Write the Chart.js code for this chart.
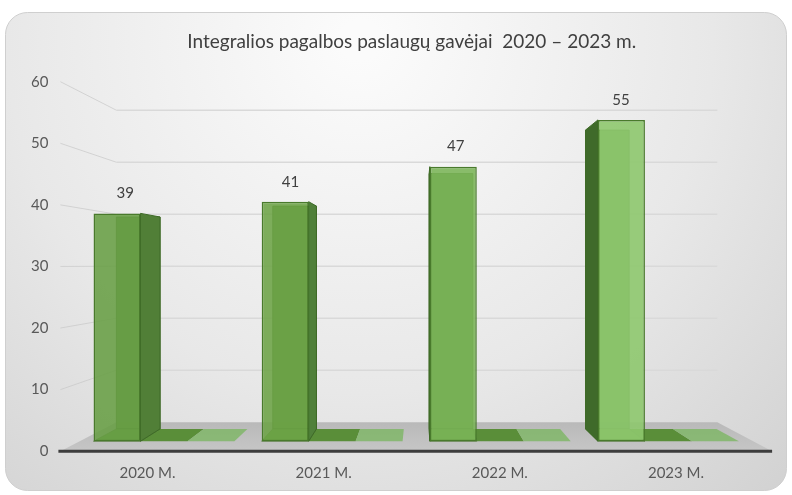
<!DOCTYPE html>
<html><head><meta charset="utf-8">
<script src="https://cdn.jsdelivr.net/npm/chart.js@4/dist/chart.umd.min.js"></script>
<style>html,body{margin:0;padding:0;background:#fff}#wrap{width:792px;height:495px}</style>
</head><body><div id="wrap"><canvas id="c" width="792" height="495"></canvas></div>
<script>
const categories = ['2020 M.', '2021 M.', '2022 M.', '2023 M.'];
const recipients = [39, 41, 47, 55];
const seriesB = [0, 0, 0, 0];
const seriesC = [0, 0, 0, 0];
const yTickValues = [0, 10, 20, 30, 40, 50, 60];
const titleText = 'Integralios pagalbos paslaugų gavėjai  2020 – 2023 m.';

const frontColors = ['rgba(104,158,68,0.88)', 'rgba(108,163,70,0.88)', 'rgba(122,180,86,0.88)', 'rgba(142,200,110,0.9)'];
const sideColors = ['#517f37', '#50803a', '#5a8c3f', '#3f6a2a'];

const VP = {x: 420, y: 265};
const KB = 0.07;     // bar depth
const KW = 0.1556;   // wall depth
function proj(x, y, k) { return [x + k * (VP.x - x), y + k * (VP.y - y)]; }
function poly(ctx, pts, fill, stroke, lw) {
  ctx.beginPath();
  ctx.moveTo(pts[0][0], pts[0][1]);
  for (let i = 1; i < pts.length; i++) ctx.lineTo(pts[i][0], pts[i][1]);
  ctx.closePath();
  if (fill) { ctx.fillStyle = fill; ctx.fill(); }
  if (stroke) { ctx.strokeStyle = stroke; ctx.lineWidth = lw || 1; ctx.stroke(); }
}

const scene = {
  id: 'scene',
  beforeDraw(chart) {
    const ctx = chart.ctx;
    ctx.save();
    ctx.fillStyle = '#ffffff';
    ctx.fillRect(0, 0, chart.width, chart.height);
    const g = ctx.createRadialGradient(360, 40, 20, 360, 40, 760);
    g.addColorStop(0, '#fbfbfb');
    g.addColorStop(0.45, '#e8e8e8');
    g.addColorStop(1, '#c6c6c6');
    ctx.beginPath();
    ctx.roundRect(5.5, 12.5, 781, 478, 22);
    ctx.fillStyle = g;
    ctx.fill();
    ctx.strokeStyle = '#cfcfcf';
    ctx.lineWidth = 1;
    ctx.stroke();
    ctx.restore();
  },
  beforeDatasetsDraw(chart) {
    const ctx = chart.ctx;
    const ca = chart.chartArea;
    const ys = chart.scales.y;
    const left = ca.left + 1, right = ca.right + 8, bottom = ca.bottom;
    ctx.save();
    yTickValues.forEach(v => {
      if (v === 0) return;
      const yf = ys.getPixelForValue(v);
      const b1 = proj(left, yf, KW), b2 = proj(right, yf, KW);
      ctx.beginPath();
      ctx.moveTo(left, yf); ctx.lineTo(b1[0], b1[1]);
      ctx.strokeStyle = 'rgba(200,200,200,0.7)'; ctx.lineWidth = 1; ctx.stroke();
      ctx.beginPath();
      ctx.moveTo(b1[0], b1[1]); ctx.lineTo(b2[0], b2[1]);
      ctx.strokeStyle = '#d9d9d9'; ctx.lineWidth = 1.5; ctx.stroke();
    });
    const fl = proj(left, bottom, KW), fr = proj(right, bottom, KW);
    const fg = ctx.createLinearGradient(0, fl[1], 0, bottom);
    fg.addColorStop(0, '#b9b9b9'); fg.addColorStop(1, '#c6c6c6');
    poly(ctx, [[left, bottom], fl, fr, [right, bottom]], fg);
    [1, 2].forEach(di => {
      const meta = chart.getDatasetMeta(di);
      meta.data.forEach(el => {
        const L = el.x - el.width / 2, R = el.x + el.width / 2, B = el.base;
        const col = di === 1 ? '#5a8e39' : 'rgba(128,182,104,0.85)';
        poly(ctx, [[L, B], [R, B], proj(R, B, KB), proj(L, B, KB)], col);
      });
    });
    const meta0 = chart.getDatasetMeta(0);
    meta0.data.forEach((el, i) => {
      const L = el.x - el.width / 2, R = el.x + el.width / 2, T = el.y, B = el.base;
      const bLT = proj(L, T, KB), bRT = proj(R, T, KB), bRB = proj(R, B, KB), bLB = proj(L, B, KB);
      poly(ctx, [bLT, bRT, bRB, bLB], 'rgba(88,140,56,0.9)', 'rgba(60,100,35,0.8)', 1);
      poly(ctx, [[L, B], [R, B], bRB, bLB], 'rgba(96,150,60,0.95)', 'rgba(60,100,35,0.6)', 1);
      if (R < VP.x) {
        poly(ctx, [[R, T], bRT, bRB, [R, B]], sideColors[i], '#3e6a27', 1);
      } else if (L > VP.x) {
        poly(ctx, [[L, T], bLT, bLB, [L, B]], sideColors[i], '#3e6a27', 1);
      }
      if (T > VP.y) {
        poly(ctx, [[L, T], [R, T], bRT, bLT], '#9bd07c', '#3e6a27', 1);
      }
    });
    ctx.restore();
  },
  afterDatasetsDraw(chart) {
    const ctx = chart.ctx;
    const ca = chart.chartArea;
    ctx.save();
    ctx.beginPath();
    ctx.moveTo(ca.left - 1, ca.bottom);
    ctx.lineTo(ca.right + 8, ca.bottom);
    ctx.strokeStyle = '#3d3d3d';
    ctx.lineWidth = 3;
    ctx.stroke();
    const meta0 = chart.getDatasetMeta(0);
    ctx.font = '15px Lato';
    ctx.fillStyle = '#404040';
    ctx.textAlign = 'center';
    ctx.textBaseline = 'middle';
    meta0.data.forEach((el, i) => {
      const dx = KB * (VP.x - el.x) / 4;
      ctx.fillText(String(recipients[i]), el.x + dx + 3, el.y - 20);
    });
    ctx.restore();
  }
};

Chart.defaults.font.family = 'Lato';

new Chart(document.getElementById('c'), {
  type: 'bar',
  data: {
    labels: categories,
    datasets: [
      {
        label: 'Gavėjai',
        data: recipients.map((v, i) => ({x: i, y: v})),
        xAxisID: 'xb', yAxisID: 'yb',
        backgroundColor: frontColors,
        borderColor: '#497a2c',
        borderWidth: 1.5,
        borderSkipped: false
      },
      {
        label: 'B',
        data: seriesB.map((v, i) => ({x: i, y: v})),
        xAxisID: 'xb', yAxisID: 'yb',
        backgroundColor: 'rgba(0,0,0,0)', borderWidth: 0
      },
      {
        label: 'C',
        data: seriesC.map((v, i) => ({x: i, y: v})),
        xAxisID: 'xb', yAxisID: 'yb',
        backgroundColor: 'rgba(0,0,0,0)', borderWidth: 0
      }
    ]
  },
  options: {
    responsive: false,
    animation: false,
    devicePixelRatio: 1,
    categoryPercentage: 0.838,
    barPercentage: 1,
    layout: {padding: {left: 20, right: 27.9, top: 0, bottom: 0.6}},
    plugins: {
      legend: {display: false},
      tooltip: {enabled: false},
      title: {
        display: true,
        text: titleText,
        fullSize: false,
        color: '#404040',
        font: {family: 'Lato', size: 19, weight: 'normal'},
        padding: {top: 30.6, bottom: 28.3}
      }
    },
    scales: {
      x: {
        type: 'category',
        offset: true,
        grid: {display: false, drawTicks: false},
        border: {display: false},
        ticks: {color: '#595959', font: {size: 15}, padding: 12.6}
      },
      xb: {
        type: 'linear',
        display: false,
        offset: false,
        min: -0.622,
        max: 3.569,
        afterBuildTicks(scale) { scale.ticks = categories.map((c, i) => ({value: i})); }
      },
      y: {
        type: 'linear',
        min: 0, max: 60,
        afterBuildTicks(scale) { scale.ticks = yTickValues.map(v => ({value: v})); },
        grid: {display: false, drawTicks: false},
        border: {display: false},
        ticks: {color: '#595959', font: {size: 15}, padding: 11}
      },
      yb: {
        type: 'linear',
        display: false,
        min: -1.71,
        max: 61.54
      }
    }
  },
  plugins: [scene]
});
</script>
</body></html>
